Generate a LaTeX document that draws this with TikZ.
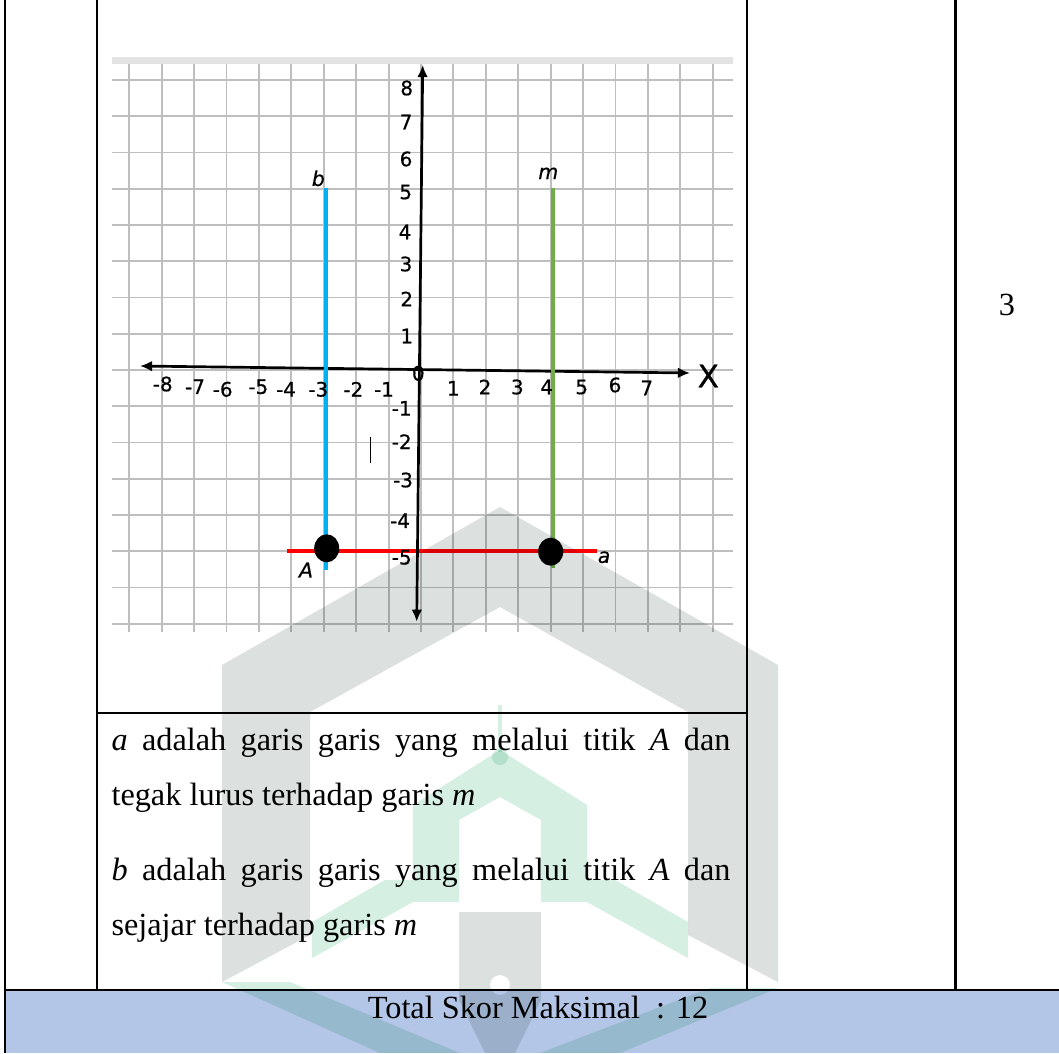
\documentclass[tikz,border=0pt]{standalone}
\usepackage{fontspec}
\setmainfont{Liberation Serif}
\newfontfamily\graphfont{DejaVu Sans}[FakeBold=0.6]
\usetikzlibrary{arrows.meta,positioning,shapes.geometric}
\definecolor{gridgray}{RGB}{190,190,190}
\definecolor{barGray}{RGB}{227,227,227}
\definecolor{lineb}{RGB}{0,176,240}
\definecolor{linem}{RGB}{112,173,71}
\definecolor{totalblue}{RGB}{180,198,231}
\definecolor{wmgray}{RGB}{220,225,224}
\definecolor{wmgreen}{RGB}{214,239,227}
\tikzset{
  tabline/.style={line width=1.1pt},
  gridln/.style={draw=gridgray, line width=0.7pt},
  axisln/.style={line width=1pt, {Latex[length=4.5pt,width=4pt]}-{Latex[length=4.5pt,width=4pt]}},
  tick/.style={font=\graphfont\fontsize{7.4}{8}\selectfont, inner sep=0pt},
  lname/.style={font=\graphfont\itshape\fontsize{7.6}{8}\selectfont, inner sep=0pt},
  dot/.style={ellipse, fill=black, minimum width=9.3pt, minimum height=10.4pt, inner sep=0pt},
  colline/.style={line width=1.5pt},
  txt/.style={font=\fontsize{12}{14}\selectfont, inner sep=0pt, anchor=base west},
}

\begin{document}
\begin{tikzpicture}[x=0.3717pt, y=-0.3717pt]
\useasboundingbox (0,0) rectangle (1059,1053);
\fill[white] (0,0) rectangle (1059,1053);

% total row
\fill[totalblue] (5,990) rectangle (1059,1053);

% grid of the picture
\fill[barGray] (112,57) rectangle (733,64);
\foreach \k in {0,...,18}
  \draw[gridln] ({129.3+32.41*\k},64) -- ({129.3+32.41*\k},632);
\foreach \k in {0,...,15}
  \draw[gridln] (112,{80+36.25*\k}) -- (733,{80+36.25*\k});

% lines a, b, m
\coordinate (a1) at (286.7,551);
\coordinate (a2) at (596.7,551);
\draw[colline, red] (a1) -- (a2);

% axes
\coordinate (xl) at (140,366);
\coordinate (xr) at (690,373);
\coordinate (yb) at (416.7,621.7);
\coordinate (yt) at (422.7,65);
\draw[axisln] (xl) -- (xr);
\draw[axisln] (yb) -- (yt);

\coordinate (b1) at (325.7,188);
\coordinate (b2) at (325.7,570);
\coordinate (m1) at (553.3,188);
\coordinate (m2) at (553.3,568);
\draw[colline, lineb] (b1) -- (b2);
\draw[colline, linem] (m1) -- (m2);

% axis numbers
\foreach \v/\x/\y [count=\n] in {-8/162.7/384, -7/195/386.7, -6/222.7/389.3, -5/258.3/386.7,
  -4/286/389.3, -3/318.3/389.3, -2/353.3/389.3, -1/384/389.3, 0/418.3/373.3,
  1/453.3/388.3, 2/485/387, 3/517.3/387, 4/546.7/387, 5/581.7/387, 6/615/385, 7/646.7/388}
  \node[tick] (xn\n) at (\x,\y) {\v};
\foreach \v/\x/\y [count=\n] in {8/406.7/88, 7/406/122, 6/406/159, 5/405.7/192, 4/405/232,
  3/406/264, 2/406.7/299, 1/406.7/336, -1/401.7/408.3, -2/401.7/441.7, -3/403/480,
  -4/400/520.7, -5/401.7/557.3}
  \node[tick] (yn\n) at (\x,\y) {\v};
\node[font=\graphfont\fontsize{11.5}{12}\selectfont, inner sep=0pt] (xlab) at (708.3,376) {X};
\coordinate (c1) at (370.3,436.7);
\coordinate (c2) at (370.3,463.3);
\draw[line width=0.4pt] (c1) -- (c2);

% points and names
\node[dot] (A) at (326.7,548.3) {};
\node[dot] (P) at (550.7,551.7) {};
\node[lname] (nb) at (318.3,178.3) {b};
\node[lname] (nm) at (548.3,173.3) {m};
\node[lname] (nA) at (306,570) {A};
\node[lname] (na) at (604,557.3) {a};

% texts
\node[txt] (t1) at (111,750) {\makebox[230.1pt][s]{\textit{a} adalah garis garis yang melalui titik \textit{A} dan}};
\node[txt] (t2) at (111,805) {tegak lurus terhadap garis \textit{m}};
\node[txt] (t3) at (111,880) {\makebox[230.1pt][s]{\textit{b} adalah garis garis yang melalui titik \textit{A} dan}};
\node[txt] (t4) at (111,935) {sejajar terhadap garis \textit{m}};
\node[txt, anchor=base] (tot) at (538,1018) {Total Skor Maksimal\ \ : 12};
\node[txt, anchor=base] (skor) at (1007,315) {3};

% table rules
\draw[tabline] (5,0) -- (5,1053);
\draw[tabline] (97,0) -- (97,990);
\draw[tabline] (747,0) -- (747,990);
\draw[tabline] (955,0) -- (955,990);
\draw[tabline] (97,713) -- (747,713);
\draw[tabline] (5,990) -- (1059,990);

% watermark
\begin{scope}[blend mode=multiply]
  \fill[wmgray] (500,507) -- (778,665) -- (778,982) -- (688,935) -- (688,712) -- (500,607)
    -- (310,712) -- (310,935) -- (222,982) -- (222,665) -- cycle;
  % mosque
  \fill[wmgreen] (500,750) -- (587,805) -- (587,880) -- (615,880) -- (688,922) -- (688,958)
    -- (587,902) -- (541,902) -- (541,820) -- (500,797) -- (459,820) -- (459,902)
    -- (413,902) -- (312,958) -- (312,922) -- (385,880) -- (413,880) -- (413,805) -- cycle;
  \fill[wmgreen] (222,982) -- (290,982) -- (460,1053) -- (380,1053) -- cycle;
  \fill[wmgreen] (778,988) -- (710,988) -- (540,1053) -- (620,1053) -- cycle;
  \fill[wmgreen] (500,757) circle[radius=8];
  \fill[wmgreen] (498,705) rectangle (502,752);
  % pen
  \fill[wmgray, even odd rule] (459,912) -- (541,912) -- (541,1000) -- (515,1053) -- (485,1053)
    -- (459,1000) -- cycle (500,985) circle[radius=10];
\end{scope}
\end{tikzpicture}
\end{document}
